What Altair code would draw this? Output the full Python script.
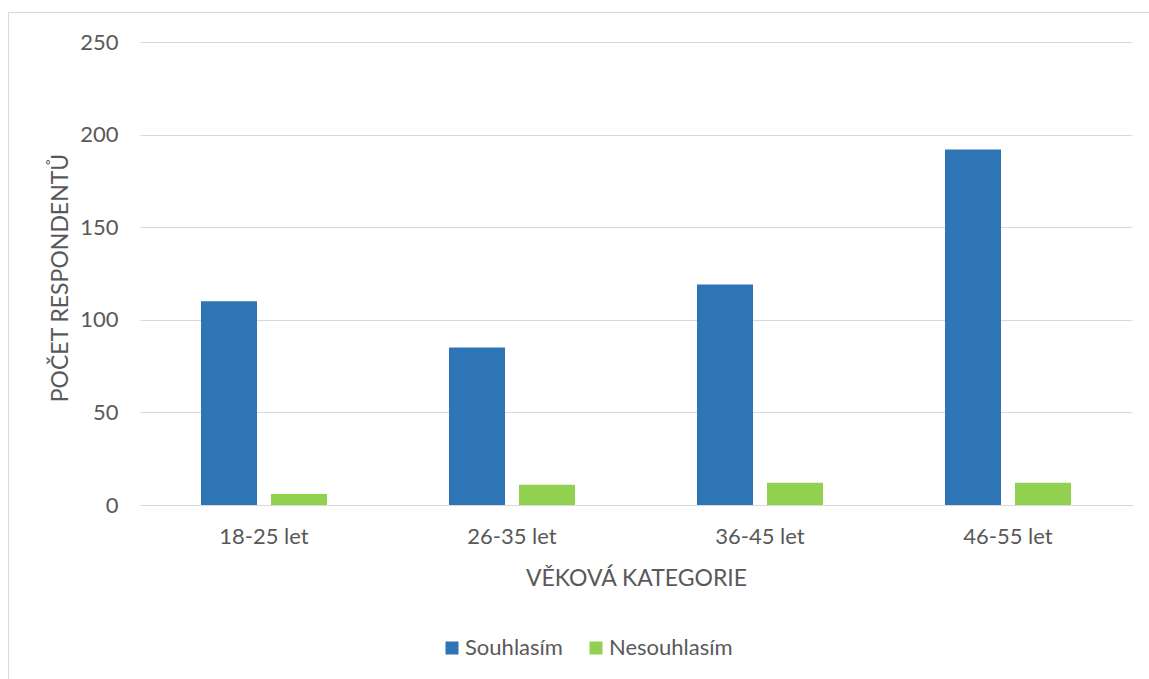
import altair as alt
import pandas as pd

# Survey answers by age group
categories = ["18-25 let", "26-35 let", "36-45 let", "46-55 let"]
souhlasim = [110, 85, 119, 192]
nesouhlasim = [6, 11, 12, 12]
series = ["Souhlasím", "Nesouhlasím"]
colors = ["#2E75B6", "#92D050"]
y_ticks = [0, 50, 100, 150, 200, 250]

rows = []
for cat, yes, no in zip(categories, souhlasim, nesouhlasim):
    rows.append({"kategorie": cat, "odpoved": series[0], "pocet": yes})
    rows.append({"kategorie": cat, "odpoved": series[1], "pocet": no})
df = pd.DataFrame(rows)

FONT = "Lato"
TEXT = "#595959"
GRID = "#D9D9D9"
W, H = 992, 463

bars = alt.Chart(df).mark_bar().encode(
    x=alt.X(
        "kategorie:N",
        sort=categories,
        scale=alt.Scale(paddingInner=0, paddingOuter=0),
        axis=alt.Axis(
            title="VĚKOVÁ KATEGORIE",
            labelAngle=0,
            ticks=False,
            tickSize=0,
            domain=True,
            domainColor=GRID,
            domainWidth=1,
            labelBaseline="alphabetic",
            labelPadding=38,
            labelFontSize=22,
            titleFontSize=23,
            titleFontWeight="normal",
            titleX=W / 2,
            titleY=80,
            titleBaseline="alphabetic",
            titleAlign="center",
        ),
    ),
    xOffset=alt.XOffset(
        "odpoved:N",
        sort=series,
        scale=alt.Scale(domain=series, paddingInner=0.2, paddingOuter=0.871),
    ),
    y=alt.Y(
        "pocet:Q",
        scale=alt.Scale(domain=[0, 250], nice=False),
        axis=alt.Axis(
            title="POČET RESPONDENTŮ",
            values=y_ticks,
            ticks=False,
            tickSize=0,
            domain=False,
            grid=True,
            gridColor=GRID,
            gridWidth=1,
            labelPadding=22,
            labelFontSize=22,
            titleFontSize=23,
            titleFontWeight="normal",
            titleAngle=270,
            titleX=-73,
            titleY=H / 2 + 4,
            titleBaseline="alphabetic",
            titleAlign="center",
        ),
    ),
    color=alt.Color(
        "odpoved:N",
        sort=series,
        scale=alt.Scale(domain=series, range=colors),
        legend=alt.Legend(
            title=None,
            orient="none",
            direction="horizontal",
            legendX=301,
            legendY=595,
            symbolType="square",
            symbolSize=169,
            symbolStrokeWidth=0,
            labelFontSize=22,
            labelOffset=2,
            columnPadding=22,
            labelLimit=300,
        ),
    ),
)

# light outer frame around the whole chart
frame = alt.Chart(pd.DataFrame({"f": [0]})).mark_rect(
    fill="#ffffff", fillOpacity=0, stroke=GRID, strokeWidth=1
).encode(
    x=alt.value(-131.5),
    x2=alt.value(1015),
    y=alt.value(-29.5),
    y2=alt.value(645),
)

chart = alt.layer(frame, bars).properties(
    width=W,
    height=H,
    padding={"left": 140, "top": 42, "right": 17, "bottom": 174},
    autosize=alt.AutoSizeParams(type="none"),
).configure(
    font=FONT,
).configure_axis(
    labelColor=TEXT,
    titleColor=TEXT,
    labelFont=FONT,
    titleFont=FONT,
).configure_legend(
    labelColor=TEXT,
    labelFont=FONT,
).configure_view(
    stroke=None,
)

chart.save("out.html", embed_options={"renderer": "svg", "actions": False})
